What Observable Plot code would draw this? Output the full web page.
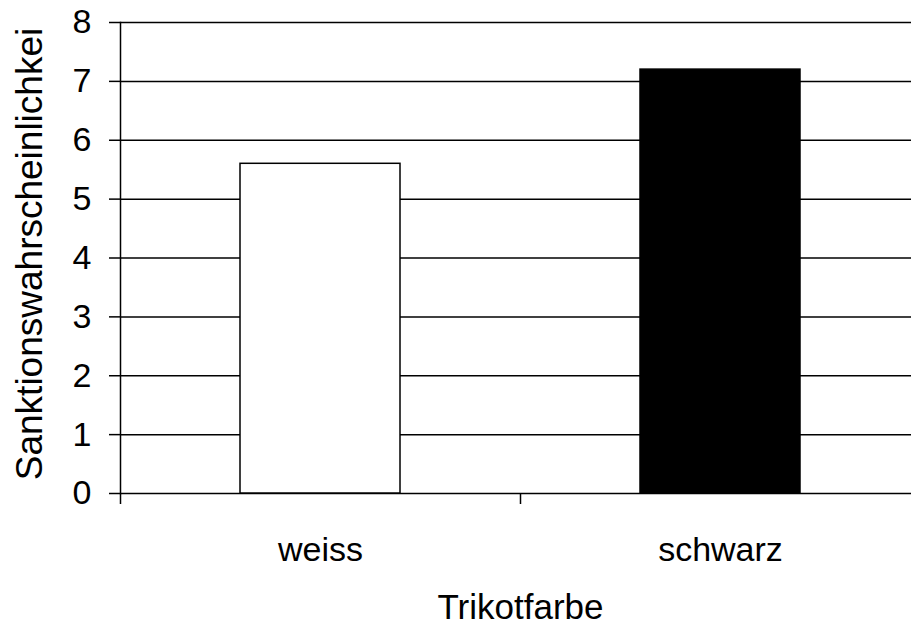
<!DOCTYPE html>
<html>
<head>
<meta charset="utf-8">
<script src="https://cdn.jsdelivr.net/npm/d3@7"></script>
<script src="https://cdn.jsdelivr.net/npm/@observablehq/plot@0.6"></script>
<style>
  html, body { margin: 0; padding: 0; background: #fff; }
  svg { display: block; }
</style>
</head>
<body>
<div id="chart"></div>
<script>
const categories = ["weiss", "schwarz"];
const values = [5.6, 7.2];
const yTicks = [0, 1, 2, 3, 4, 5, 6, 7, 8];
const xTitle = "Trikotfarbe";
const yTitle = "Sanktionswahrscheinlichkei";

const data = categories.map((c, i) => ({cat: c, idx: i, value: values[i]}));
const FONT = "'Liberation Sans', Arial, sans-serif";

const chart = Plot.plot({
  width: 911,
  height: 631,
  marginLeft: 120,
  marginRight: 0,
  marginTop: 22,
  marginBottom: 138,
  style: {fontFamily: FONT, background: "#fff", color: "#000"},
  x: {type: "linear", domain: [0, categories.length], range: [120, 920]},
  y: {domain: [0, 8], ticks: yTicks},
  marks: [
    Plot.ruleY(yTicks, {stroke: "#000", strokeWidth: 1.5}),
    Plot.rectY(data, {
      x1: "idx", x2: d => d.idx + 1, y: "value",
      insetLeft: 120, insetRight: 120,
      fill: d => d.cat === "weiss" ? "#fff" : "#000",
      stroke: "#000", strokeWidth: 1.5
    }),
    Plot.frame({anchor: "left", stroke: "#000", strokeWidth: 1.5}),
    Plot.axisY({ticks: yTicks, tickSize: 11, tickPadding: 18, fontSize: 34, label: null, stroke: "#000", strokeWidth: 1.5}),
    Plot.axisX({ticks: [0, 1, 2], tickSize: 11, tickFormat: () => "", label: null, stroke: "#000", strokeWidth: 1.5}),
    Plot.text(data, {x: d => d.idx + 0.5, y: 0, text: "cat", dy: 57, fontSize: 34, lineAnchor: "middle", fill: "#000"}),
    Plot.text([xTitle], {x: categories.length / 2, y: 0, text: d => d, dy: 114, fontSize: 35, lineAnchor: "middle", fill: "#000"}),
    Plot.text([yTitle], {frameAnchor: "left", text: d => d, dx: -90, dy: -4, rotate: -90, fontSize: 37, lineAnchor: "middle", textAnchor: "middle", fill: "#000"})
  ]
});
document.getElementById("chart").appendChild(chart);
</script>
</body>
</html>
